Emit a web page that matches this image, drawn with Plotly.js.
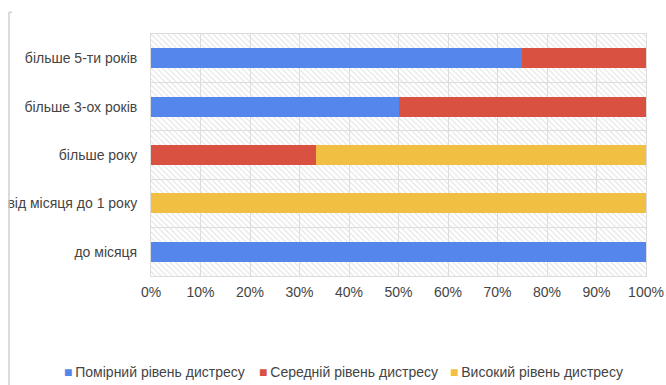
<!DOCTYPE html>
<html>
<head>
<meta charset="utf-8">
<script src="https://cdn.plot.ly/plotly-3.0.1.min.js"></script>
<style>html,body{margin:0;padding:0;background:#fff;}#chart{width:666px;height:385px;}</style>
</head>
<body>
<div id="chart"></div>
<script>
// Categories top-to-bottom
const categories = ["більше 5-ти років", "більше 3-ох років", "більше року", "від місяця до 1 року", "до місяця"];
const seriesNames = ["Помірний рівень дистресу", "Середній рівень дистресу", "Високий рівень дистресу"];
const moderate = [0.75, 0.50, 0, 0, 1.00];
const medium = [0.25, 0.50, 0.333, 0, 0];
const high = [0, 0, 0.667, 1.00, 0];
const xTickVals = [0, 0.1, 0.2, 0.3, 0.4, 0.5, 0.6, 0.7, 0.8, 0.9, 1.0];
const xTickText = ["0%", "10%", "20%", "30%", "40%", "50%", "60%", "70%", "80%", "90%", "100%"];
const fullRow = [1, 1, 1, 1, 1];

const colors = ["#5486eb", "#d95241", "#f1bf42"];
const font = {family: "Arial, 'Liberation Sans', sans-serif", size: 14, color: "#444"};

const traces = [];
// hatched background band (main axes)
traces.push({
  type: "bar", orientation: "h", x: fullRow, y: categories, width: 1,
  xaxis: "x", yaxis: "y", showlegend: false, hoverinfo: "skip",
  marker: {color: "rgba(0,0,0,0)", line: {width: 0},
    pattern: {shape: "\\", fgcolor: "#e0e0e0", bgcolor: "rgba(0,0,0,0)", size: 4, solidity: 0.25}}
});
[moderate, medium, high].forEach((vals, i) => {
  traces.push({
    type: "bar", orientation: "h", name: seriesNames[i], x: vals, y: categories,
    xaxis: "x2", yaxis: "y2", marker: {color: colors[i], line: {width: 0}}, showlegend: false
  });
});

// legend drawn as text entries (square marker + name)
const legendX = [-0.1798, 0.2142, 0.6010];
const annotations = seriesNames.map((name, i) => ({
  xref: "paper", yref: "paper", x: legendX[i], y: -0.397, xanchor: "left", yanchor: "middle",
  showarrow: false, font: font,
  text: '<span style="color:' + colors[i] + '">■</span>\u2009' + name
}));

const layout = {
  width: 666, height: 385,
  margin: {l: 151, r: 20, t: 34, b: 109},
  paper_bgcolor: "#fff", plot_bgcolor: "#fff",
  barmode: "stack", bargap: 0.59,
  font: font,
  xaxis: {range: [0, 1], tickvals: xTickVals, ticktext: xTickText, showgrid: true,
    gridcolor: "#dcdcdc", gridwidth: 1, zeroline: false, showline: true, mirror: true,
    linecolor: "#dcdcdc", ticks: "", tickfont: font, ticklabelstandoff: 3, fixedrange: true},
  yaxis: {type: "category", categoryarray: categories, range: [4.5, -0.5],
    tickson: "boundaries", ticks: "", showgrid: true, gridcolor: "#dcdcdc", gridwidth: 1,
    showline: true, mirror: true, linecolor: "#dcdcdc", tickfont: font, ticklabelstandoff: 10},
  xaxis2: {overlaying: "x", range: [0, 1], visible: false},
  yaxis2: {overlaying: "y", type: "category", categoryarray: categories, range: [4.5, -0.5], visible: false},
  showlegend: false,
  annotations: annotations,
  shapes: [
    {type: "line", xref: "paper", yref: "paper", x0: -0.2869, x1: -0.2869, y0: 1.09, y1: -0.46,
      line: {color: "#cfcfcf", width: 1.5}},
    {type: "line", xref: "paper", yref: "paper", x0: -0.2869, x1: -0.281, y0: 1.09, y1: 1.09,
      line: {color: "#cfcfcf", width: 1.5}}
  ]
};

Plotly.newPlot("chart", traces, layout, {displayModeBar: false, staticPlot: true});
</script>
</body>
</html>
